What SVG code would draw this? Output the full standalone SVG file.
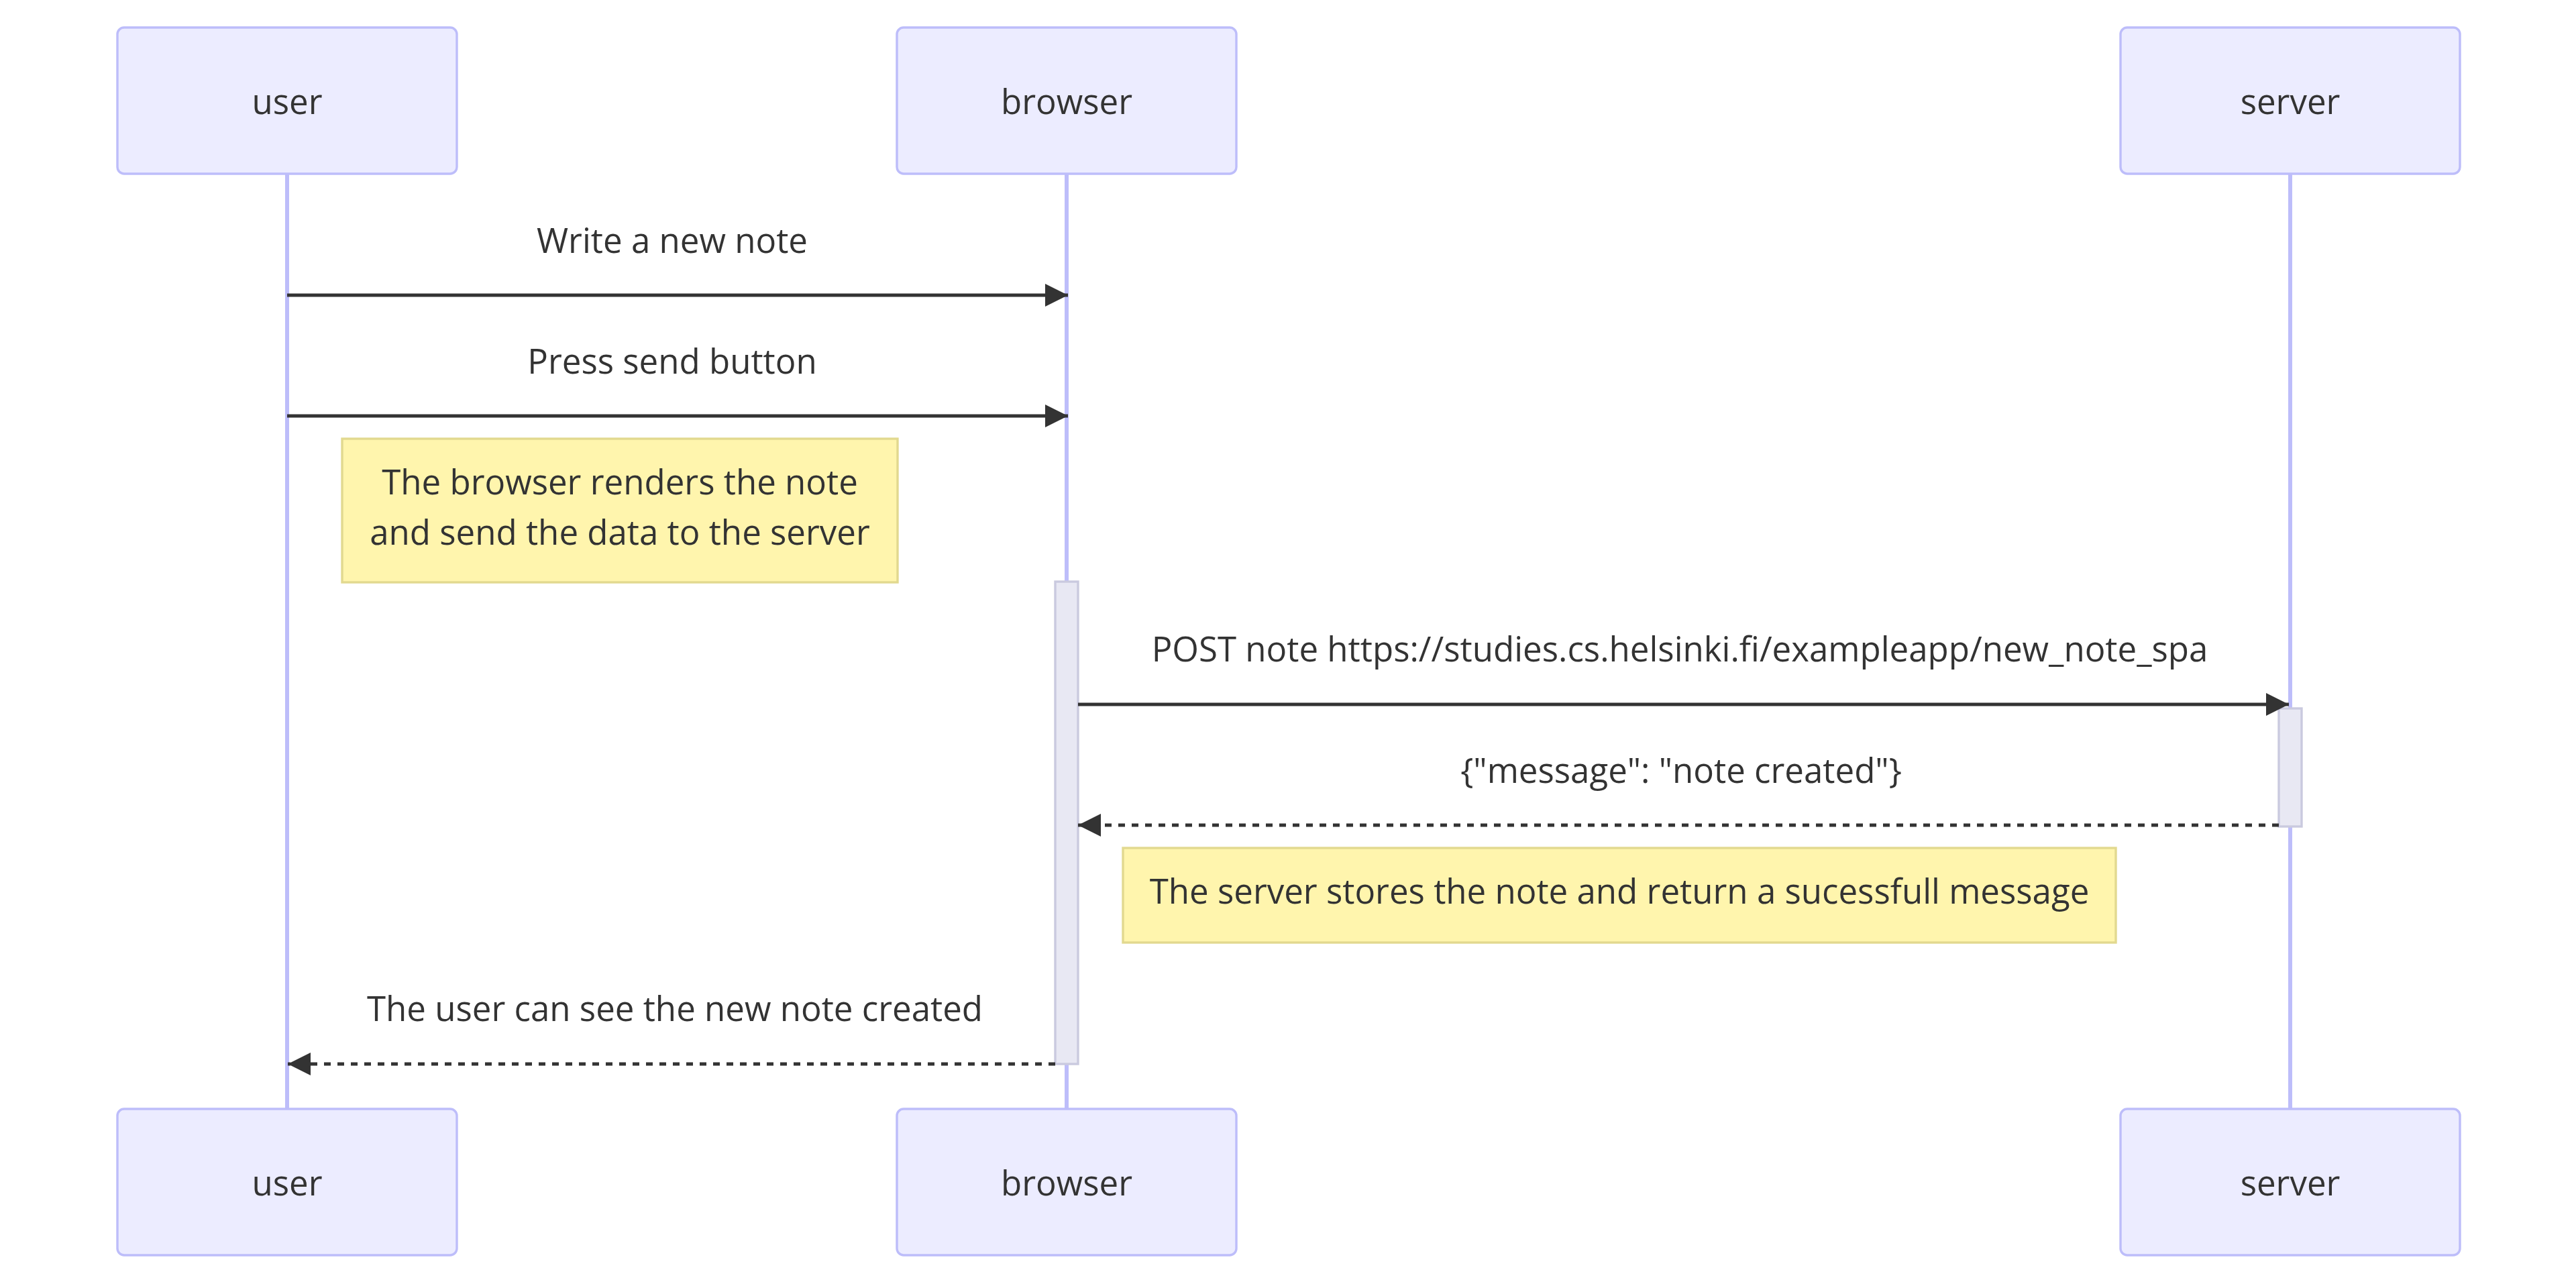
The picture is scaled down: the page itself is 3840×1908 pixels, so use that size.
<svg xmlns="http://www.w3.org/2000/svg" width="3840" height="1908" viewBox="0 0 3840 1908">
<style>
text{font-family:"Open Sans","Noto Sans","DejaVu Sans",sans-serif;font-size:51px;fill:#333333;text-anchor:middle}
.actor{fill:#ECECFF;stroke:#BDBDFA;stroke-width:3.4}
.lifeline{stroke:#BDBDFA;stroke-width:6}
.note{fill:#FFF5AD;stroke:#E2D98F;stroke-width:3.4}
.act{fill:#E8E8F3;stroke:#CACADF;stroke-width:3.4}
.msg{stroke:#333333;stroke-width:5;fill:none}
.dash{stroke-dasharray:10,10}
</style>
<defs>
<marker id="arrowhead" viewBox="0 0 10 10" refX="10" refY="5" markerUnits="userSpaceOnUse" markerWidth="34" markerHeight="34" orient="auto">
<path d="M0,0 L10,5 L0,10 z" fill="#333333" stroke="none"/>
</marker>
</defs>
<rect width="3840" height="1908" fill="#ffffff"/>
<g id="lifelines">
<line class="lifeline" x1="428" y1="259" x2="428" y2="1653"/>
<line class="lifeline" x1="1590" y1="259" x2="1590" y2="1653"/>
<line class="lifeline" x1="3414" y1="259" x2="3414" y2="1653"/>
</g>
<g id="actor-user-top"><rect class="actor" x="175" y="41" width="506" height="218" rx="10"/><text x="428" y="170">user</text></g>
<g id="actor-browser-top"><rect class="actor" x="1337" y="41" width="506" height="218" rx="10"/><text x="1590" y="170">browser</text></g>
<g id="actor-server-top"><rect class="actor" x="3161" y="41" width="506" height="218" rx="10"/><text x="3414" y="170">server</text></g>
<g id="actor-user-bottom"><rect class="actor" x="175" y="1653" width="506" height="218" rx="10"/><text x="428" y="1782">user</text></g>
<g id="actor-browser-bottom"><rect class="actor" x="1337" y="1653" width="506" height="218" rx="10"/><text x="1590" y="1782">browser</text></g>
<g id="actor-server-bottom"><rect class="actor" x="3161" y="1653" width="506" height="218" rx="10"/><text x="3414" y="1782">server</text></g>
<g id="activation-browser"><rect class="act" x="1573" y="867" width="34" height="719"/></g>
<g id="activation-server"><rect class="act" x="3397" y="1056" width="34" height="176"/></g>
<g id="note-1"><rect class="note" x="510" y="654" width="828" height="214"/><text x="924" y="737">The browser renders the note</text><text x="924" y="812">and send the data to the server</text></g>
<g id="note-2"><rect class="note" x="1674" y="1264" width="1480" height="141"/><text x="2414" y="1347">The server stores the note and return a sucessfull message</text></g>
<g id="connectors">
<line class="msg" x1="428" y1="440" x2="1592" y2="440" marker-end="url(#arrowhead)"/>
<text x="1002" y="377">Write a new note</text>
<line class="msg" x1="428" y1="620" x2="1592" y2="620" marker-end="url(#arrowhead)"/>
<text x="1002" y="557">Press send button</text>
<line class="msg" x1="1607" y1="1050" x2="3412" y2="1050" marker-end="url(#arrowhead)"/>
<text x="2504" y="986">POST note https://studies.cs.helsinki.fi/exampleapp/new_note_spa</text>
<line class="msg dash" x1="3397" y1="1230" x2="1607" y2="1230" marker-end="url(#arrowhead)"/>
<text x="2506" y="1167">{"message": "note created"}</text>
<line class="msg dash" x1="1573" y1="1586" x2="429" y2="1586" marker-end="url(#arrowhead)"/>
<text x="1006" y="1522">The user can see the new note created</text>
</g>
</svg>
